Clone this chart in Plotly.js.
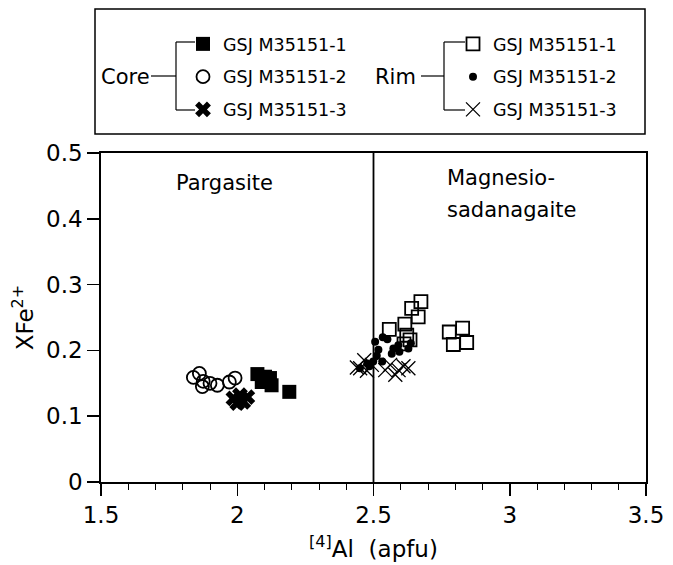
<!DOCTYPE html>
<html>
<head>
<meta charset="utf-8">
<script src="https://cdn.plot.ly/plotly-3.0.1.min.js"></script>
<style>html,body{margin:0;padding:0;background:#fff;}#chart{width:673px;height:565px;}</style>
</head>
<body>
<div id="chart"></div>
<script>
// ---- Data ----
var coreSeries1X = [2.074, 2.102, 2.090, 2.126, 2.120, 2.191];
var coreSeries1Y = [0.164, 0.160, 0.152, 0.147, 0.158, 0.137];

var coreSeries2X = [1.839, 1.861, 1.875, 1.872, 1.900, 1.927, 1.971, 1.992];
var coreSeries2Y = [0.159, 0.165, 0.153, 0.145, 0.150, 0.147, 0.152, 0.158];

var coreSeries3X = [1.986, 2.010, 2.037, 2.000, 2.022];
var coreSeries3Y = [0.127, 0.132, 0.129, 0.120, 0.122];

var rimSeries1X = [2.674, 2.640, 2.664, 2.615, 2.558, 2.622, 2.634, 2.612, 2.778, 2.827, 2.793, 2.842];
var rimSeries1Y = [0.274, 0.264, 0.251, 0.240, 0.232, 0.223, 0.216, 0.210, 0.228, 0.234, 0.209, 0.212];

var rimSeries2X = [2.506, 2.534, 2.551, 2.518, 2.512, 2.499, 2.485, 2.450, 2.573, 2.591, 2.595, 2.628, 2.637, 2.567, 2.532, 2.477];
var rimSeries2Y = [0.213, 0.220, 0.217, 0.201, 0.192, 0.183, 0.176, 0.173, 0.203, 0.208, 0.198, 0.203, 0.211, 0.195, 0.183, 0.180];

var rimSeries3X = [2.451, 2.476, 2.494, 2.466, 2.543, 2.561, 2.580, 2.610, 2.628, 2.592, 2.439];
var rimSeries3Y = [0.173, 0.169, 0.178, 0.185, 0.170, 0.178, 0.163, 0.176, 0.173, 0.170, 0.174];

var seriesNames = ['GSJ M35151-1', 'GSJ M35151-2', 'GSJ M35151-3'];
var xTickVals = [1.5, 2, 2.5, 3, 3.5];
var yTickVals = [0, 0.1, 0.2, 0.3, 0.4, 0.5];
var fieldBoundary = 2.5;

var FONT = 'DejaVu Sans, Arial, sans-serif';

var traces = [
  {x: coreSeries1X, y: coreSeries1Y, name: seriesNames[0], mode: 'markers', legend: 'legend', legendgroup: 'c1',
   marker: {symbol: 'square', size: 14, color: '#000'}},
  {x: coreSeries2X, y: coreSeries2Y, name: seriesNames[1], mode: 'markers', legend: 'legend', legendgroup: 'c2',
   marker: {symbol: 'circle-open', size: 13, color: '#000', line: {width: 1.8, color: '#000'}}},
  {x: coreSeries3X, y: coreSeries3Y, name: seriesNames[2], mode: 'markers', legend: 'legend', legendgroup: 'c3',
   marker: {symbol: 'x', size: 14, color: '#000'}},
  {x: rimSeries1X, y: rimSeries1Y, name: seriesNames[0], mode: 'markers', legend: 'legend2', legendgroup: 'r1',
   marker: {symbol: 'square-open', size: 13, color: '#000', line: {width: 1.8, color: '#000'}}},
  {x: rimSeries2X, y: rimSeries2Y, name: seriesNames[1], mode: 'markers', legend: 'legend2', legendgroup: 'r2',
   marker: {symbol: 'circle', size: 8, color: '#000'}},
  {x: rimSeries3X, y: rimSeries3Y, name: seriesNames[2], mode: 'markers', legend: 'legend2', legendgroup: 'r3',
   marker: {symbol: 'x-thin-open', size: 14, color: '#000', line: {width: 1.3, color: '#000'}}}
];

// plot area in pixels: x 101..646, y 153..482
var L = 101, R = 646, T = 153, B = 482;
function px(p) { return (p - L) / (R - L); }
function py(p) { return (B - p) / (B - T); }

var legFont = {family: FONT, size: 17.5, color: '#000'};
var layout = {
  width: 673, height: 565,
  margin: {l: L, r: 673 - R, t: T, b: 565 - B, pad: 0},
  paper_bgcolor: '#fff', plot_bgcolor: '#fff',
  font: {family: FONT, color: '#000'},
  showlegend: true,
  legend: {x: px(183), y: py(26), xanchor: 'left', yanchor: 'top', traceorder: 'grouped', tracegroupgap: 7,
           font: legFont, bgcolor: 'rgba(0,0,0,0)', borderwidth: 0},
  legend2: {x: px(453), y: py(26), xanchor: 'left', yanchor: 'top', traceorder: 'grouped', tracegroupgap: 7,
            font: legFont, bgcolor: 'rgba(0,0,0,0)', borderwidth: 0},
  xaxis: {
    range: [1.5, 3.5], tickmode: 'array', tickvals: xTickVals, ticktext: xTickVals.map(String),
    ticks: 'outside', ticklen: 12, tickwidth: 1.5, tickcolor: '#000',
    minor: {dtick: 0.1, tick0: 1.5, ticks: 'outside', ticklen: 6, tickwidth: 1, tickcolor: '#000', showgrid: false},
    showline: true, linewidth: 1.8, linecolor: '#000', mirror: true, showgrid: false, zeroline: false,
    tickfont: {family: FONT, size: 23, color: '#000'},
    title: {text: '<sup>[4]</sup>Al\u00a0\u00a0(apfu)', font: {family: FONT, size: 23, color: '#000'}, standoff: 13}
  },
  yaxis: {
    range: [0, 0.5], tickmode: 'array', tickvals: yTickVals, ticktext: ['0', '0.1', '0.2', '0.3', '0.4', '0.5'],
    ticks: 'outside', ticklen: 12, tickwidth: 1.5, tickcolor: '#000',
    showline: true, linewidth: 1.8, linecolor: '#000', mirror: true, showgrid: false, zeroline: false,
    tickfont: {family: FONT, size: 23, color: '#000'},
    title: {text: 'XFe<sup>2+</sup>', font: {family: FONT, size: 23, color: '#000'}, standoff: 6}
  },
  shapes: [
    {type: 'line', xref: 'x', yref: 'y', x0: fieldBoundary, x1: fieldBoundary, y0: 0, y1: 0.5, line: {color: '#000', width: 1.8}},
    // legend box
    {type: 'rect', xref: 'paper', yref: 'paper', x0: px(95), x1: px(645), y0: py(134), y1: py(9), line: {color: '#000', width: 1.5}},
    // core bracket
    {type: 'line', xref: 'paper', yref: 'paper', x0: px(151), x1: px(176), y0: py(76), y1: py(76), line: {color: '#000', width: 1.2}},
    {type: 'line', xref: 'paper', yref: 'paper', x0: px(176), x1: px(176), y0: py(42), y1: py(110), line: {color: '#000', width: 1.2}},
    {type: 'line', xref: 'paper', yref: 'paper', x0: px(176), x1: px(195), y0: py(42), y1: py(42), line: {color: '#000', width: 1.2}},
    {type: 'line', xref: 'paper', yref: 'paper', x0: px(176), x1: px(195), y0: py(110), y1: py(110), line: {color: '#000', width: 1.2}},
    // rim bracket
    {type: 'line', xref: 'paper', yref: 'paper', x0: px(421), x1: px(444), y0: py(76), y1: py(76), line: {color: '#000', width: 1.2}},
    {type: 'line', xref: 'paper', yref: 'paper', x0: px(444), x1: px(444), y0: py(42), y1: py(110), line: {color: '#000', width: 1.2}},
    {type: 'line', xref: 'paper', yref: 'paper', x0: px(444), x1: px(465), y0: py(42), y1: py(42), line: {color: '#000', width: 1.2}},
    {type: 'line', xref: 'paper', yref: 'paper', x0: px(444), x1: px(465), y0: py(110), y1: py(110), line: {color: '#000', width: 1.2}}
  ],
  annotations: [
    {xref: 'paper', yref: 'paper', x: px(125), y: py(77), text: 'Core', showarrow: false, xanchor: 'center', yanchor: 'middle',
     font: {family: FONT, size: 21, color: '#000'}},
    {xref: 'paper', yref: 'paper', x: px(395), y: py(77), text: 'Rim', showarrow: false, xanchor: 'center', yanchor: 'middle',
     font: {family: FONT, size: 21, color: '#000'}},
    {xref: 'x', yref: 'y', x: 1.955, y: 0.454, text: 'Pargasite', showarrow: false, xanchor: 'center', yanchor: 'middle',
     font: {family: FONT, size: 21, color: '#000'}},
    {xref: 'x', yref: 'y', x: 2.763, y: 0.462, text: 'Magnesio-', showarrow: false, xanchor: 'left', yanchor: 'middle',
     font: {family: FONT, size: 21, color: '#000'}},
    {xref: 'x', yref: 'y', x: 2.763, y: 0.413, text: 'sadanagaite', showarrow: false, xanchor: 'left', yanchor: 'middle',
     font: {family: FONT, size: 21, color: '#000'}}
  ]
};

Plotly.newPlot('chart', traces, layout, {staticPlot: true, displayModeBar: false});
</script>
</body>
</html>
